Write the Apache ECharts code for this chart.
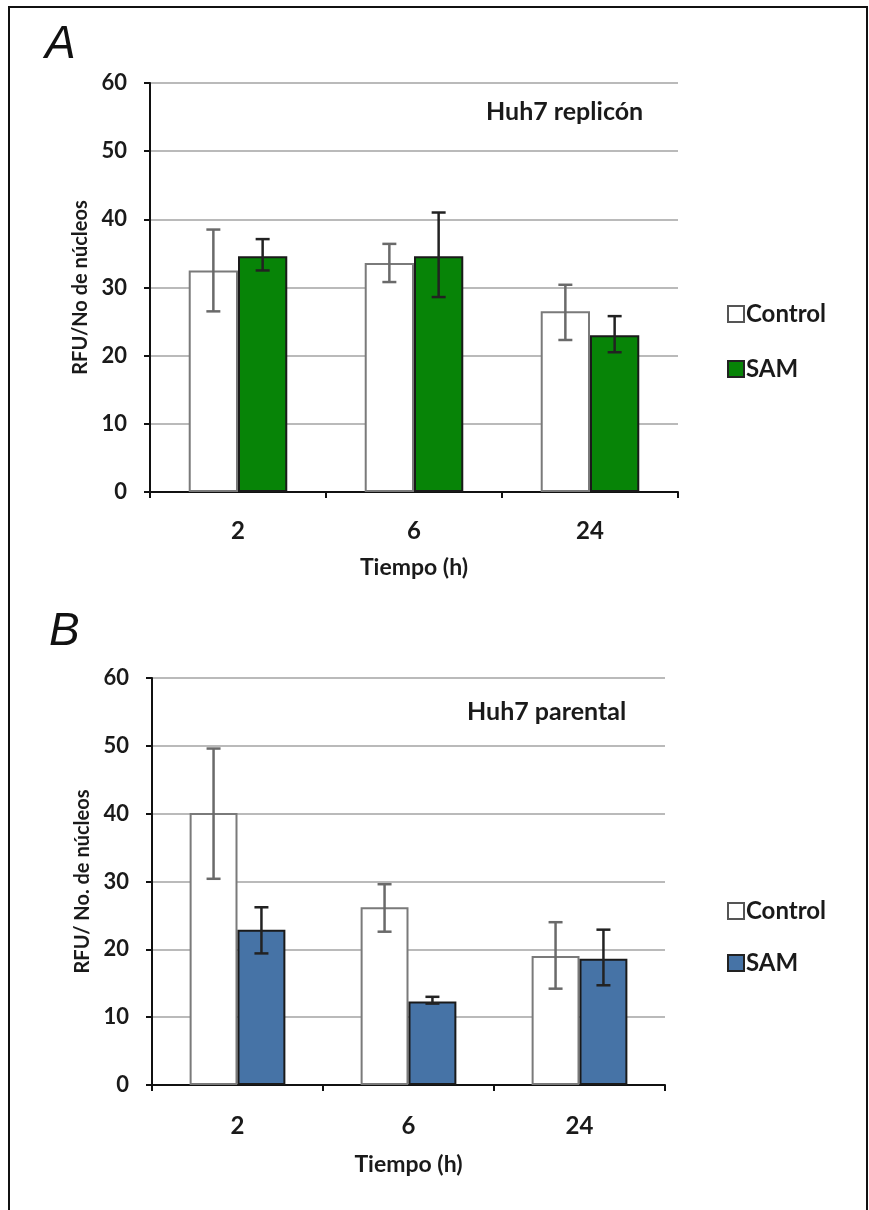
<!DOCTYPE html>
<html>
<head>
<meta charset="utf-8">
<script src="https://cdn.jsdelivr.net/npm/echarts@6/dist/echarts.min.js"></script>
<style>
  html, body { margin: 0; padding: 0; background: #fff; }
  #wrap { position: relative; width: 869px; height: 1210px; }
  #chart { position: absolute; left: 0; top: 0; width: 869px; height: 1210px; }
  #frame { position: absolute; left: 8px; top: 6px; width: 856px; height: 1220px; border: 2px solid #111; border-bottom: none; pointer-events: none; }
</style>
</head>
<body>
<div id="wrap">
  <div id="chart"></div>
  <div id="frame"></div>
</div>
<script>
// tiempo (h)
const categories = ['2', '6', '24']

// panel A - Huh7 replicón
const controlA = [32.5, 33.6, 26.5]
const controlALow = [26.5, 30.8, 22.3]
const controlAHigh = [38.5, 36.4, 30.4]
const samA = [34.6, 34.6, 23.0]
const samALow = [32.5, 28.6, 20.5]
const samAHigh = [37.1, 41.0, 25.8]

// panel B - Huh7 parental
const controlB = [40.1, 26.2, 19.0]
const controlBLow = [30.4, 22.6, 14.2]
const controlBHigh = [49.6, 29.6, 24.0]
const samB = [22.9, 12.3, 18.6]
const samBLow = [19.4, 12.0, 14.7]
const samBHigh = [26.2, 13.0, 22.9]

const yMin = 0
const yMax = 60
const yStep = 10

const font = 'Lato'
const txt = '#1a1a1a'
const green = '#078407'
const blue = '#4673a6'

const chart = echarts.init(document.getElementById('chart'))

function errData(low, high) {
  return categories.map((c, i) => [i, low[i], high[i]])
}

// error bar drawn at the bar's offset inside the category band
function errSeries(name, idx, low, high, offset, color) {
  return {
    name: name,
    type: 'custom',
    xAxisIndex: idx,
    yAxisIndex: idx,
    z: 5,
    encode: { x: 0, y: [1, 2] },
    data: errData(low, high),
    renderItem: function (params, api) {
      const band = api.size([1, 0])[0]
      const x = api.coord([api.value(0), 0])[0] + offset * band
      const yLo = api.coord([api.value(0), api.value(1)])[1]
      const yHi = api.coord([api.value(0), api.value(2)])[1]
      const cap = 7
      const style = { stroke: color, lineWidth: 2.5 }
      return {
        type: 'group',
        children: [
          { type: 'line', shape: { x1: x, y1: yLo, x2: x, y2: yHi }, style: style },
          { type: 'line', shape: { x1: x - cap, y1: yLo, x2: x + cap, y2: yLo }, style: style },
          { type: 'line', shape: { x1: x - cap, y1: yHi, x2: x + cap, y2: yHi }, style: style }
        ]
      }
    }
  }
}

function xAxis(idx, labelMargin, nameGap) {
  return {
    type: 'category',
    gridIndex: idx,
    data: categories,
    name: 'Tiempo (h)',
    nameLocation: 'middle',
    nameGap: nameGap,
    nameTextStyle: { fontFamily: font, fontWeight: 'bold', fontSize: 23, color: txt },
    axisLine: { lineStyle: { color: '#111', width: 2 } },
    axisTick: { show: true, length: 6, lineStyle: { color: '#111', width: 2 } },
    axisLabel: { margin: labelMargin, fontFamily: font, fontWeight: 'bold', fontSize: 24, color: txt },
    splitLine: { show: false }
  }
}

function yAxis(idx, name, nameGap) {
  return {
    type: 'value',
    gridIndex: idx,
    min: yMin,
    max: yMax,
    interval: yStep,
    name: name,
    nameLocation: 'middle',
    nameGap: nameGap,
    nameTextStyle: { fontFamily: font, fontWeight: 'bold', fontSize: 20, color: txt },
    axisLine: { show: true, lineStyle: { color: '#111', width: 2 } },
    axisTick: { show: true, length: 6, lineStyle: { color: '#111', width: 2 } },
    axisLabel: { margin: 23, fontFamily: font, fontWeight: 'bold', fontSize: 22, color: txt },
    splitLine: { show: true, lineStyle: { color: '#a3a3a3', width: 1.5 } }
  }
}

function barSeries(name, idx, data, color, border) {
  return {
    name: name,
    type: 'bar',
    xAxisIndex: idx,
    yAxisIndex: idx,
    barWidth: '28%',
    barGap: '0%',
    data: data,
    itemStyle: { color: color, borderColor: border, borderWidth: 2 }
  }
}

function legend(top, gap, samColor) {
  return {
    orient: 'vertical',
    left: 722,
    top: top,
    itemWidth: 16,
    itemHeight: 16,
    itemGap: gap,
    icon: 'rect',
    textStyle: { fontFamily: font, fontWeight: 'bold', fontSize: 24, color: txt, padding: [0, 0, 0, -3] },
    data: [
      { name: 'Control', itemStyle: { color: '#fff', borderColor: '#555', borderWidth: 2 } },
      { name: 'SAM', itemStyle: { color: samColor, borderColor: '#222', borderWidth: 2 } }
    ]
  }
}

chart.setOption({
  animation: false,
  grid: [
    { left: 150, top: 83, width: 528, height: 409 },
    { left: 152, top: 678, width: 513, height: 407 }
  ],
  xAxis: [xAxis(0, 27, 64), xAxis(1, 29, 68)],
  yAxis: [yAxis(0, 'RFU/No de núcleos', 56), yAxis(1, 'RFU/ No. de núcleos', 52)],
  legend: [legend(297, 31, green), legend(894, 28, blue)],
  graphic: [
    { type: 'text', left: 45, top: 22, style: { text: 'A', font: 'italic 46px "Liberation Sans"', fill: '#111' } },
    { type: 'text', left: 49, top: 609, style: { text: 'B', font: 'italic 46px "Liberation Sans"', fill: '#111' } },
    { type: 'text', left: 486, top: 99, style: { text: 'Huh7 replicón', font: 'bold 25px Lato', fill: txt } },
    { type: 'text', left: 467, top: 699, style: { text: 'Huh7 parental', font: 'bold 25px Lato', fill: txt } }
  ],
  series: [
    barSeries('Control', 0, controlA, '#fff', '#7a7a7a'),
    barSeries('SAM', 0, samA, green, '#1a1a1a'),
    barSeries('Control', 1, controlB, '#fff', '#7a7a7a'),
    barSeries('SAM', 1, samB, blue, '#1a1a1a'),
    errSeries('errControlA', 0, controlALow, controlAHigh, -0.14, '#6a6a6a'),
    errSeries('errSamA', 0, samALow, samAHigh, 0.14, '#222'),
    errSeries('errControlB', 1, controlBLow, controlBHigh, -0.14, '#6a6a6a'),
    errSeries('errSamB', 1, samBLow, samBHigh, 0.14, '#222')
  ]
})
</script>
</body>
</html>
